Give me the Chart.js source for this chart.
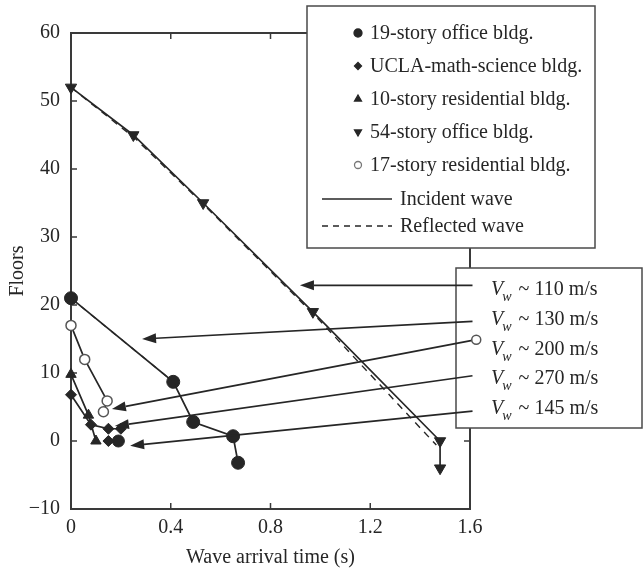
<!DOCTYPE html>
<html>
<head>
<meta charset="utf-8">
<script src="https://cdn.jsdelivr.net/npm/chart.js@4.4.0/dist/chart.umd.min.js"></script>
<style>
  html, body { margin: 0; padding: 0; background: #fff; }
</style>
</head>
<body>
<canvas id="waveChart" width="643" height="571"></canvas>
<script>
// values: time (s) and floor level
const office19T = [0, 0.41, 0.49, 0.65, 0.67];
const office19F = [21, 8.7, 2.8, 0.7, -3.2];
const uclaT = [0, 0.08, 0.15, 0.2];
const uclaF = [6.8, 2.4, 1.8, 1.8];
const res10T = [0, 0.07, 0.1];
const res10F = [9.8, 3.8, 0];
const office54T = [0, 0.25, 0.53, 0.97, 1.48, 1.48];
const office54F = [52, 45, 35, 19, 0, -4];
const res17T = [0, 0.055, 0.145, 0.13];
const res17F = [17, 12, 5.9, 4.3];
// loose points sitting on the zero floor
const baseDiamondT = [0.15];
const baseDiamondF = [0];
const baseCircleT = [0.19];
const baseCircleF = [0];
// reflected waves (dashed), running alongside the incident ones
const refl54T = [0, 0.26, 0.545, 0.99, 1.465];
const refl54F = [52, 44.4, 34.3, 18.0, -0.6];
const refl19T = [0, 0.42];
const refl19F = [21, 8.4];

const xTicks = [0, 0.4, 0.8, 1.2, 1.6];
const yTicks = [-10, 0, 10, 20, 30, 40, 50, 60];

const legendLabels = [
  '19-story office bldg.',
  'UCLA-math-science bldg.',
  '10-story residential bldg.',
  '54-story office bldg.',
  '17-story residential bldg.',
  'Incident wave',
  'Reflected wave'
];

// velocity call-outs and the arrows pointing from the box into the plot
const speedLabels = ['110', '130', '200', '270', '145'];
const arrowFromT = [1.61, 1.61, 1.625, 1.61, 1.61];
const arrowFromF = [22.9, 17.6, 14.9, 9.6, 4.4];
const arrowToT = [0.918, 0.285, 0.164, 0.176, 0.237];
const arrowToF = [22.9, 15.0, 4.7, 2.2, -0.7];

const INK = '#262626';
const SERIF = '"Liberation Serif", "DejaVu Serif", serif';

function pts(ts, fs) {
  return ts.map((t, i) => ({ x: t, y: fs[i] }));
}

function series(ts, fs, style, extra) {
  return Object.assign({
    data: pts(ts, fs),
    showLine: true,
    borderColor: INK,
    borderWidth: 1.7,
    backgroundColor: INK,
    pointBackgroundColor: INK,
    pointBorderColor: INK,
    pointBorderWidth: 1,
    pointStyle: style,
    pointRadius: 6,
    clip: false
  }, extra || {});
}

const datasets = [
  series(refl54T, refl54F, false, { borderDash: [7, 6], pointRadius: 0, borderWidth: 1.4 }),
  series(refl19T, refl19F, false, { borderDash: [6, 7], pointRadius: 0, borderWidth: 1.3 }),
  series(office19T, office19F, 'circle', { pointRadius: 6.5 }),
  series(uclaT, uclaF, 'rectRot', { pointRadius: 5.5 }),
  series(res10T, res10F, 'triangle', { pointRadius: 6 }),
  series(office54T, office54F, 'triangle', { pointRadius: 6.5, pointRotation: 180 }),
  series(res17T, res17F, 'circle', { pointRadius: 5, pointBackgroundColor: '#fff', pointBorderColor: '#555', pointBorderWidth: 1.5 }),
  series(baseDiamondT, baseDiamondF, 'rectRot', { showLine: false, pointRadius: 5.5 }),
  series(baseCircleT, baseCircleF, 'circle', { showLine: false, pointRadius: 6 })
];

function arrow(ctx, x1, y1, x2, y2) {
  const ang = Math.atan2(y2 - y1, x2 - x1);
  const len = 14, half = 5;
  const bx = x2 - len * Math.cos(ang), by = y2 - len * Math.sin(ang);
  ctx.beginPath();
  ctx.moveTo(x1, y1);
  ctx.lineTo(bx, by);
  ctx.stroke();
  ctx.beginPath();
  ctx.moveTo(x2, y2);
  ctx.lineTo(bx + half * Math.sin(ang), by - half * Math.cos(ang));
  ctx.lineTo(bx - half * Math.sin(ang), by + half * Math.cos(ang));
  ctx.closePath();
  ctx.fill();
}

const framePlugin = {
  id: 'frame',
  beforeDatasetsDraw(chart) {
    const { ctx, chartArea: a, scales } = chart;
    ctx.save();
    ctx.strokeStyle = '#3a3a3a';
    ctx.lineWidth = 2;
    ctx.strokeRect(a.left, a.top, a.right - a.left, a.bottom - a.top);
    ctx.lineWidth = 1.5;
    xTicks.forEach(v => {
      const x = scales.x.getPixelForValue(v);
      ctx.beginPath();
      ctx.moveTo(x, a.bottom); ctx.lineTo(x, a.bottom - 6);
      ctx.moveTo(x, a.top); ctx.lineTo(x, a.top + 6);
      ctx.stroke();
    });
    yTicks.forEach(v => {
      const y = scales.y.getPixelForValue(v);
      ctx.beginPath();
      ctx.moveTo(a.left, y); ctx.lineTo(a.left + 6, y);
      ctx.moveTo(a.right, y); ctx.lineTo(a.right - 6, y);
      ctx.stroke();
    });
    ctx.restore();
  },
  afterDraw(chart) {
    const { ctx, scales } = chart;
    const drawPoint = Chart.helpers.drawPoint;
    ctx.save();

    // legend box
    ctx.fillStyle = '#fff';
    ctx.fillRect(307, 6, 288, 242);
    ctx.strokeStyle = '#4a4a4a';
    ctx.lineWidth = 1.5;
    ctx.strokeRect(307, 6, 288, 242);

    const rowY = [33, 66, 99, 132, 165, 199, 226];
    const marks = [
      { style: 'circle', fill: INK, stroke: INK, r: 4, rot: 0 },
      { style: 'rectRot', fill: INK, stroke: INK, r: 3.5, rot: 0 },
      { style: 'triangle', fill: INK, stroke: INK, r: 4, rot: 0 },
      { style: 'triangle', fill: INK, stroke: INK, r: 4, rot: 180 },
      { style: 'circle', fill: '#fff', stroke: '#777', r: 3.5, rot: 0 }
    ];
    ctx.font = '20px ' + SERIF;
    ctx.textBaseline = 'middle';
    legendLabels.forEach((lbl, i) => {
      const y = rowY[i];
      if (i < 5) {
        const m = marks[i];
        ctx.fillStyle = m.fill;
        ctx.strokeStyle = m.stroke;
        ctx.lineWidth = 1.3;
        drawPoint(ctx, { pointStyle: m.style, radius: m.r, rotation: m.rot, borderWidth: 1.3 }, 358, y);
        ctx.fillStyle = INK;
        ctx.fillText(lbl, 370, y + 1);
      } else {
        ctx.strokeStyle = INK;
        ctx.lineWidth = 1.4;
        ctx.setLineDash(i === 6 ? [6, 5] : []);
        ctx.beginPath();
        ctx.moveTo(322, y); ctx.lineTo(392, y);
        ctx.stroke();
        ctx.setLineDash([]);
        ctx.fillStyle = INK;
        ctx.fillText(lbl, 400, y + 1);
      }
    });

    // velocity box
    ctx.fillStyle = '#fff';
    ctx.fillRect(456, 268, 186, 160);
    ctx.strokeStyle = '#4a4a4a';
    ctx.lineWidth = 1.5;
    ctx.strokeRect(456, 268, 186, 160);

    const textY = [290, 320, 350, 379, 409];
    speedLabels.forEach((s, i) => {
      const y = textY[i];
      let x = 491;
      ctx.fillStyle = INK;
      ctx.font = 'italic 20px ' + SERIF;
      ctx.fillText('V', x, y);
      x += ctx.measureText('V').width;
      ctx.font = 'italic 14px ' + SERIF;
      ctx.fillText('w', x - 1, y + 7);
      x += ctx.measureText('w').width + 1;
      ctx.font = '20px ' + SERIF;
      ctx.fillText(' ~ ' + s + ' m/s', x, y);
    });

    // arrows
    ctx.strokeStyle = INK;
    ctx.fillStyle = INK;
    ctx.lineWidth = 1.7;
    speedLabels.forEach((s, i) => {
      const x1 = scales.x.getPixelForValue(arrowFromT[i]);
      const y1 = scales.y.getPixelForValue(arrowFromF[i]);
      const x2 = scales.x.getPixelForValue(arrowToT[i]);
      const y2 = scales.y.getPixelForValue(arrowToF[i]);
      arrow(ctx, x1, y1, x2, y2);
      if (s === '200') {
        ctx.fillStyle = '#fff';
        ctx.strokeStyle = '#555';
        ctx.lineWidth = 1.5;
        ctx.beginPath();
        ctx.arc(x1, y1, 4.5, 0, Math.PI * 2);
        ctx.fill();
        ctx.stroke();
        ctx.strokeStyle = INK;
        ctx.fillStyle = INK;
        ctx.lineWidth = 1.7;
      }
    });
    ctx.restore();
  }
};

new Chart(document.getElementById('waveChart').getContext('2d'), {
  type: 'scatter',
  data: { datasets: datasets },
  options: {
    responsive: false,
    animation: false,
    events: [],
    layout: { autoPadding: false, padding: { top: 33, right: 173, left: 0, bottom: 0 } },
    plugins: {
      legend: { display: false },
      tooltip: { enabled: false }
    },
    scales: {
      x: {
        type: 'linear',
        min: 0,
        max: 1.6,
        afterFit: s => { s.height = 62; },
        afterBuildTicks: s => { s.ticks = xTicks.map(v => ({ value: v })); },
        grid: { display: false, drawTicks: false },
        border: { display: false },
        ticks: {
          padding: 7,
          color: INK,
          font: { family: SERIF, size: 20 },
          callback: v => String(v)
        },
        title: {
          display: true,
          text: 'Wave arrival time (s)',
          color: INK,
          font: { family: SERIF, size: 20 },
          padding: { top: 2, bottom: 1 }
        }
      },
      y: {
        type: 'linear',
        min: -10,
        max: 60,
        afterFit: s => { s.width = 71; },
        afterBuildTicks: s => { s.ticks = yTicks.map(v => ({ value: v })); },
        grid: { display: false, drawTicks: false },
        border: { display: false },
        ticks: {
          padding: 11,
          color: INK,
          font: { family: SERIF, size: 20 },
          callback: v => String(v).replace('-', '\u2212')
        },
        title: {
          display: true,
          text: 'Floors',
          color: INK,
          font: { family: SERIF, size: 20 },
          padding: { top: 6, bottom: 0 }
        }
      }
    }
  },
  plugins: [framePlugin]
});
</script>
</body>
</html>
